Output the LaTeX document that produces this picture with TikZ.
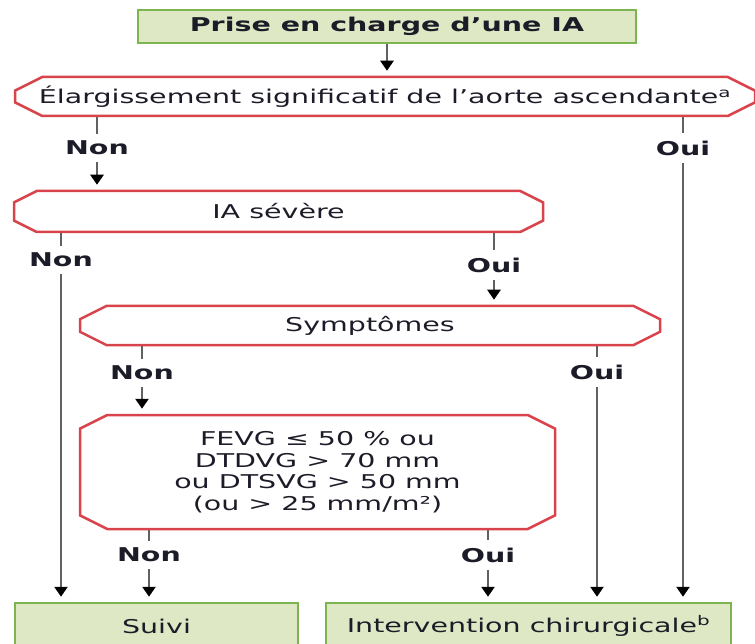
\documentclass[tikz,border=0pt]{standalone}
\usepackage{fontspec}
\setmainfont[FakeStretch=1.5]{DejaVu Sans}
\usetikzlibrary{shapes.misc,arrows.meta}
\definecolor{okfill}{HTML}{DFE8C4}
\definecolor{okline}{HTML}{7CB450}
\definecolor{askline}{HTML}{D9434B}
\definecolor{txt}{HTML}{1C1C28}
\begin{document}
\begin{tikzpicture}[x=1pt,y=-1pt,
    every node/.style={text=txt,font=\fontsize{19}{21.5}\selectfont},
    endbox/.style={draw=okline,fill=okfill,line width=2.5pt,minimum height=33pt,inner sep=0pt},
    askbox/.style={draw=askline,line width=2.5pt,chamfered rectangle,
      chamfered rectangle angle=63.43,chamfered rectangle xsep=20pt,inner sep=0pt},
    answer/.style={font=\fontsize{19}{21.5}\selectfont\bfseries,inner sep=7pt},
    conn/.style={draw=black!62,line width=2.5pt},
    arr/.style={conn,-{Triangle[length=10pt,width=13pt,black]},shorten >=5pt}]
        \useasboundingbox (0,0) rectangle (755,644);

        % boxes
        \node (start) at (387,26.5) [endbox,minimum width=498pt] {\bfseries Prise en charge d'une IA};
        \node (aorte) at (385,96.5) [askbox,minimum width=740pt,minimum height=39pt]
          {\'Elargissement significatif de l'aorte ascendante\textsuperscript{a}};
        \node (severe) at (278.5,211.5) [askbox,minimum width=529pt,minimum height=41pt] {IA sévère};
        \node (sympt) at (370,325.5) [askbox,minimum width=580pt,minimum height=39pt] {Symptômes};
        \node (fevg) at (317.5,472) [askbox,minimum width=475pt,minimum height=114pt,align=center]
          {FEVG ≤ 50 \% ou\\DTDVG > 70 mm\\ou DTSVG > 50 mm\\(ou > 25 mm/m²)};
        \node (suivi) at (156.5,626) [endbox,minimum width=283pt,minimum height=46pt] {Suivi};
        \node (chir) at (528.5,626) [endbox,minimum width=405pt,minimum height=46pt]
          {Intervention chirurgicale\textsuperscript{b}};

        % answers
        \node (non1) at (97,148) [answer] {Non};
        \node (oui1) at (683,148) [answer] {Oui};
        \node (non2) at (61,260) [answer] {Non};
        \node (oui2) at (494,265) [answer] {Oui};
        \node (non3) at (142,373) [answer] {Non};
        \node (oui3) at (597,372) [answer] {Oui};
        \node (non4) at (149,555) [answer] {Non};
        \node (oui4) at (488,555) [answer] {Oui};

        % connectors
        \draw[arr] (start) -- (aorte.north -| start);
        \draw[conn] (aorte.south -| non1) -- (non1);
        \draw[arr] (non1) -- (severe.north -| non1);
        \draw[conn] (aorte.south -| oui1) -- (oui1);
        \draw[arr] (oui1) -- (chir.north -| oui1);
        \draw[conn] (severe.south -| non2) -- (non2);
        \draw[arr] (non2) -- (suivi.north -| non2);
        \draw[conn] (severe.south -| oui2) -- (oui2);
        \draw[arr] (oui2) -- (sympt.north -| oui2);
        \draw[conn] (sympt.south -| non3) -- (non3);
        \draw[arr] (non3) -- (fevg.north -| non3);
        \draw[conn] (sympt.south -| oui3) -- (oui3);
        \draw[arr] (oui3) -- (chir.north -| oui3);
        \draw[conn] (fevg.south -| non4) -- (non4);
        \draw[arr] (non4) -- (suivi.north -| non4);
        \draw[conn] (fevg.south -| oui4) -- (oui4);
        \draw[arr] (oui4) -- (chir.north -| oui4);
\end{tikzpicture}
\end{document}
